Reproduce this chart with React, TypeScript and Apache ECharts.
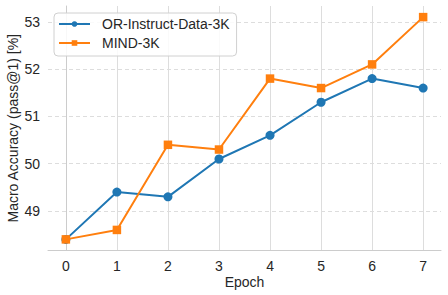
import React, { useEffect, useRef } from "react";
import * as echarts from "echarts";

const epochs = [0, 1, 2, 3, 4, 5, 6, 7];
const orInstruct = [48.4, 49.4, 49.3, 50.1, 50.6, 51.3, 51.8, 51.6];
const mind3k = [48.4, 48.6, 50.4, 50.3, 51.8, 51.6, 52.1, 53.1];
const yTicks = [49, 50, 51, 52, 53];
const seriesNames = ["OR-Instruct-Data-3K", "MIND-3K"];

export default function App() {
  const ref = useRef<HTMLDivElement>(null);
  useEffect(() => {
    const chart = echarts.init(ref.current!, null, { renderer: "svg" });
    const font = "Liberation Sans, Arial, sans-serif";
    chart.setOption({
      animation: false,
      textStyle: { fontFamily: font },
      grid: { left: 48, right: 7, top: 6, bottom: 44.5, containLabel: false, outerBoundsMode: "none" },
      legend: {
        orient: "vertical",
        left: 54,
        top: 13,
        padding: [3, 7, 5, 4],
        itemWidth: 31,
        itemHeight: 7,
        itemGap: 3,
        backgroundColor: "rgba(255,255,255,0.85)",
        borderColor: "#d0d0d0",
        borderWidth: 1,
        borderRadius: 4,
        textStyle: { fontSize: 14, lineHeight: 16, color: "#262626", fontFamily: font, padding: [0, 0, 0, 7] },
        data: seriesNames,
      },
      xAxis: {
        type: "value",
        min: -0.35,
        max: 7.35,
        name: "Epoch",
        nameLocation: "middle",
        nameGap: 24,
        nameMoveOverlap: false,
        nameTextStyle: { fontSize: 14, color: "#262626" },
        axisLine: { show: true, lineStyle: { color: "#cccccc", width: 1 } },
        axisTick: { show: false, customValues: epochs },
        axisLabel: { customValues: epochs, fontSize: 14, color: "#262626", margin: 8 },
        splitLine: { show: true, lineStyle: { color: "#dddddd", width: 1, type: "solid" } },
      },
      yAxis: {
        type: "value",
        min: 48.165,
        max: 53.335,
        name: "Macro Accuracy (pass@1) [%]",
        nameLocation: "middle",
        nameGap: 28,
        nameMoveOverlap: false,
        nameTextStyle: { fontSize: 14, color: "#262626" },
        axisLine: { show: true, lineStyle: { color: "#cccccc", width: 1 } },
        axisTick: { show: false, customValues: yTicks },
        axisLabel: { customValues: yTicks, fontSize: 14, color: "#262626", margin: 8 },
        splitLine: { show: true, lineStyle: { color: "#dddddd", width: 1, type: [4, 3] } },
      },
      series: [
        {
          name: seriesNames[0],
          type: "line",
          data: epochs.map((e, i) => [e, orInstruct[i]]),
          symbol: "circle",
          symbolSize: 9,
          lineStyle: { color: "#1f77b4", width: 2 },
          itemStyle: { color: "#1f77b4" },
          z: 3,
        },
        {
          name: seriesNames[1],
          type: "line",
          data: epochs.map((e, i) => [e, mind3k[i]]),
          symbol: "rect",
          symbolSize: 8.5,
          lineStyle: { color: "#ff7f0e", width: 2 },
          itemStyle: { color: "#ff7f0e" },
          z: 4,
        },
      ],
    });
    return () => chart.dispose();
  }, []);
  return <div ref={ref} style={{ width: 448, height: 295, position: "absolute", left: 0, top: 0 }} />;
}
